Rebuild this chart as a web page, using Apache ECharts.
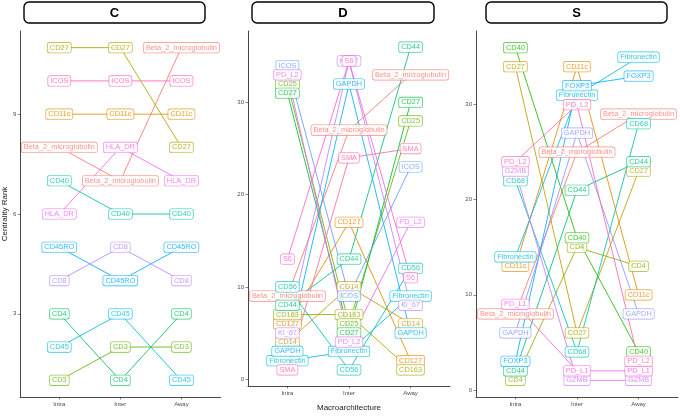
<!DOCTYPE html>
<html>
<head>
<meta charset="utf-8">
<script src="https://cdn.jsdelivr.net/npm/echarts@6/dist/echarts.min.js"></script>
<style>
  html, body { margin: 0; padding: 0; background: #fff; }
  #chart { width: 680px; height: 417px; }
</style>
</head>
<body>
<div id="chart"></div>
<script>
// x categories
const positions = ['Intra', 'Inter', 'Away'];

// facet C
const markersC = ['Beta_2_microglobulin', 'CD11c', 'CD27', 'CD3', 'CD4', 'CD40', 'CD45', 'CD45RO', 'CD8', 'HLA_DR', 'ICOS'];
const intraC = [8, 9, 11, 1, 3, 7, 2, 5, 4, 6, 10];
const interC = [7, 9, 11, 2, 1, 6, 3, 4, 5, 8, 10];
const awayC  = [11, 9, 8, 2, 3, 6, 1, 5, 4, 7, 10];
const ticksC = [3, 6, 9];

// facet D
const markersD = ['Beta_2_microglobulin', 'CD127', 'CD14', 'CD163', 'CD25', 'CD27', 'CD44', 'CD56', 'Fibronectin', 'GAPDH', 'ICOS', 'Ki_67', 'PD_L2', 'S6', 'SMA'];
const intraD = [9, 6, 4, 7, 32, 31, 8, 10, 2, 3, 34, 5, 33, 13, 1];
const interD = [27, 17, 10, 7, 6, 5, 13, 1, 3, 32, 9, 34.5, 4, 34.5, 24];
const awayD  = [33, 2, 6, 1, 28, 30, 36, 12, 9, 5, 23, 8, 17, 11, 25];
const ticksD = [0, 10, 20, 30];

// facet S
const markersS = ['Beta_2_microglobulin', 'CD11c', 'CD27', 'CD4', 'CD40', 'CD44', 'CD68', 'Fibronectin', 'FOXP3', 'GAPDH', 'GZMB', 'PD_L1', 'PD_L2'];
const intraS = [8, 13, 34, 1, 36, 2, 22, 14, 3, 6, 23, 9, 24];
const interS = [25, 34, 6, 15, 16, 21, 4, 31, 32, 27, 1, 2, 30];
const awayS  = [29, 10, 23, 13, 4, 24, 28, 35, 33, 8, 1, 2, 3];
const ticksS = [0, 10, 20, 30];

// ggplot style hue palette (hcl, c=100, l=65)
function hcl(h, c, l) {
    const hr = h * Math.PI / 180;
    const U = c * Math.cos(hr), V = c * Math.sin(hr);
    const Xn = 95.047, Yn = 100, Zn = 108.883;
    const Y = l > 8 ? Yn * Math.pow((l + 16) / 116, 3) : Yn * l / 903.3;
    const d = Xn + 15 * Yn + 3 * Zn;
    const u = U / (13 * l) + 4 * Xn / d;
    const v = V / (13 * l) + 9 * Yn / d;
    const X = 9 * Y * u / (4 * v);
    const Z = -X / 3 - 5 * Y + 3 * Y / v;
    const x = X / 100, y = Y / 100, z = Z / 100;
    const lin = [
        3.240479 * x - 1.537150 * y - 0.498535 * z,
        -0.969256 * x + 1.875992 * y + 0.041556 * z,
        0.055648 * x - 0.204043 * y + 1.057311 * z
    ];
    return '#' + lin.map(t => {
        t = t <= 0.0031308 ? 12.92 * t : 1.055 * Math.pow(t, 1 / 2.4) - 0.055;
        t = Math.round(Math.max(0, Math.min(1, t)) * 255);
        return t.toString(16).padStart(2, '0');
    }).join('');
}
function huePal(n) {
    const out = [];
    for (let i = 0; i < n; i++) out.push(hcl(15 + i * 360 / n, 100, 65));
    return out;
}

const facets = [
    { name: 'C', markers: markersC, ranks: [intraC, interC, awayC], ticks: ticksC, min: 0.5, max: 11.5, left: 18.5, strip: [24, 205] },
    { name: 'D', markers: markersD, ranks: [intraD, interD, awayD], ticks: ticksD, min: -0.75, max: 37.75, left: 248, strip: [252, 434] },
    { name: 'S', markers: markersS, ranks: [intraS, interS, awayS], ticks: ticksS, min: -0.75, max: 37.75, left: 476, strip: [486, 667] }
];

const FONT = "'Liberation Sans', Arial, sans-serif";
const grids = [], xAxes = [], yAxes = [], series = [], graphics = [];

facets.forEach((f, i) => {
    grids.push({ left: f.left, top: 31, width: 202, height: 366 });
    xAxes.push({
        type: 'value', gridIndex: i, min: 0.36, max: 3.64,
        axisLine: { show: true, onZero: false, lineStyle: { color: '#333', width: 0.9 } },
        axisTick: { show: true, customValues: [1, 2, 3], length: 2.5, lineStyle: { color: '#333', width: 0.6 } },
        axisLabel: {
            customValues: [1, 2, 3], formatter: v => positions[Math.round(v) - 1],
            fontSize: 6, color: '#4d4d4d', margin: 4, fontFamily: FONT
        },
        splitLine: { show: false },
        name: i === 1 ? 'Macroarchitecture' : '',
        nameLocation: 'middle', nameGap: 18,
        nameTextStyle: { fontSize: 8, color: '#1a1a1a', fontFamily: FONT }
    });
    yAxes.push({
        type: 'value', gridIndex: i, min: f.min, max: f.max,
        axisLine: { show: true, onZero: false, lineStyle: { color: '#333', width: 0.9 } },
        axisTick: { show: true, customValues: f.ticks, length: 2.5, lineStyle: { color: '#333', width: 0.6 } },
        axisLabel: { customValues: f.ticks, fontSize: 6, color: '#4d4d4d', margin: 4, fontFamily: FONT },
        splitLine: { show: false },
        name: i === 0 ? 'Centrality Rank' : '',
        nameLocation: 'middle', nameGap: 10, nameRotate: 90,
        nameTextStyle: { fontSize: 8, color: '#1a1a1a', fontFamily: FONT }
    });

    const cols = huePal(f.markers.length);
    // lines first, labels over them
    f.markers.forEach((m, j) => {
        const pts = f.ranks.map((r, k) => [k + 1, r[j]]);
        series.push({
            type: 'line', xAxisIndex: i, yAxisIndex: i, data: pts,
            symbol: 'none', silent: true, z: 2,
            lineStyle: { color: cols[j], width: 0.85 }
        });
    });
    f.markers.forEach((m, j) => {
        const pts = f.ranks.map((r, k) => [k + 1, r[j]]);
        series.push({
            type: 'scatter', xAxisIndex: i, yAxisIndex: i, data: pts,
            symbolSize: 0, silent: true, z: 3,
            itemStyle: { color: cols[j] },
            label: {
                show: true, position: 'inside', formatter: m,
                fontSize: 7.4, lineHeight: 8, fontFamily: FONT, color: cols[j],
                backgroundColor: '#fff', borderColor: cols[j], borderWidth: 0.6,
                borderRadius: 2, padding: [1.2, 2.2, 0.8, 2.2]
            }
        });
    });

    // facet strip
    graphics.push({
        type: 'rect', silent: true,
        shape: { x: f.strip[0], y: 2, width: f.strip[1] - f.strip[0], height: 21, r: 5 },
        style: { fill: '#fff', stroke: '#000', lineWidth: 1.4 }
    });
    graphics.push({
        type: 'text', silent: true, x: (f.strip[0] + f.strip[1]) / 2, y: 13,
        style: { text: f.name, align: 'center', verticalAlign: 'middle', fontSize: 13, fontWeight: 'bold', fontFamily: FONT, fill: '#000' }
    });
});

const chart = echarts.init(document.getElementById('chart'));
chart.setOption({
    animation: false,
    backgroundColor: '#fff',
    grid: grids,
    xAxis: xAxes,
    yAxis: yAxes,
    series: series,
    graphic: graphics
});
</script>
</body>
</html>
